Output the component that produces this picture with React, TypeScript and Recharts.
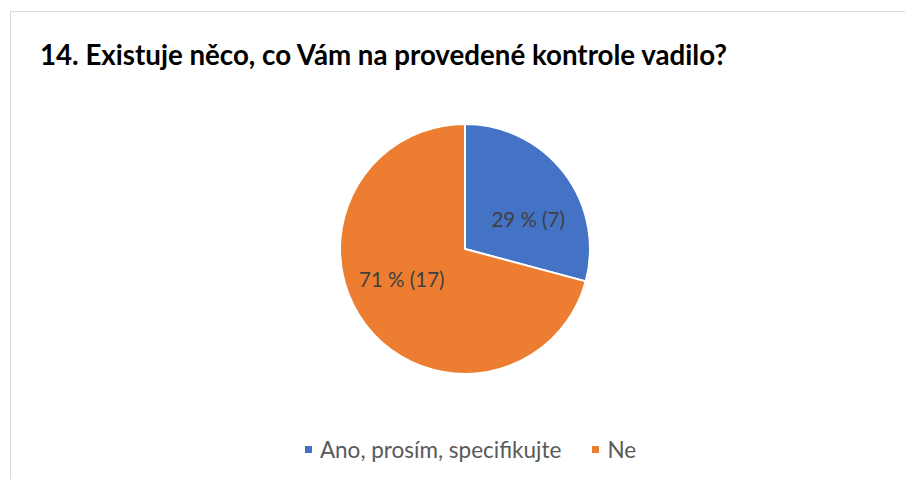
import { PieChart, Pie, Cell, Legend } from "recharts";

const categories = ["Ano, prosím, specifikujte", "Ne"];
const counts = [7, 17];
const colors = ["#4472C4", "#ED7D31"];
const title = "14. Existuje něco, co Vám na provedené kontrole vadilo?";

const data = categories.map((name, i) => ({ name, value: counts[i] }));

const RADIAN = Math.PI / 180;
const FONT = "Lato, 'Open Sans', sans-serif";

function renderLabel(props: any) {
  const { cx, cy, midAngle, outerRadius, percent, value } = props;
  const r = outerRadius * 0.56;
  const a = (midAngle - 12) * RADIAN;
  const x = cx + r * Math.cos(-a);
  const y = cy + r * Math.sin(-a);
  return (
    <text
      x={x}
      y={y}
      fill="#404040"
      fontSize={20.5}
      fontFamily={FONT}
      textAnchor="middle"
      dominantBaseline="central"
    >
      {`${Math.round(percent * 100)} % (${value})`}
    </text>
  );
}

function LegendContent(props: any) {
  const items = props.payload || [];
  return (
    <div
      style={{
        display: "flex",
        justifyContent: "center",
        alignItems: "center",
        fontFamily: FONT,
        paddingLeft: 36,
      }}
    >
      {items.map((entry: any, i: number) => (
        <div
          key={i}
          style={{ display: "flex", alignItems: "center", marginRight: i < items.length - 1 ? 31 : 0 }}
        >
          <span style={{ width: 7, height: 7, background: entry.color, marginRight: 8, display: "inline-block" }} />
          <span style={{ color: "#595959", fontSize: 22.5 }}>{entry.value}</span>
        </div>
      ))}
    </div>
  );
}

export default function App() {
  return (
    <div
      style={{
        position: "fixed",
        left: 0,
        top: 0,
        width: 905,
        height: 479,
        overflow: "hidden",
        background: "#fff",
      }}
    >
      <div
        style={{
          position: "absolute",
          left: 10,
          top: 11,
          width: 920,
          height: 500,
          border: "1.5px solid #d9d9d9",
          boxSizing: "border-box",
        }}
      />
      <div
        style={{
          position: "absolute",
          left: 40,
          top: 38,
          fontFamily: FONT,
          fontWeight: 700,
          fontSize: 27.7,
          color: "#000",
          whiteSpace: "nowrap",
        }}
      >
        {title}
      </div>
      <div style={{ position: "absolute", left: 0, top: 0 }}>
        <PieChart width={905} height={479} margin={{ top: 0, right: 0, bottom: 0, left: 0 }}>
          <Pie
            data={data}
            dataKey="value"
            nameKey="name"
            cx={465}
            cy={249}
            outerRadius={125}
            startAngle={90}
            endAngle={-270}
            stroke="#fff"
            strokeWidth={2}
            label={renderLabel}
            labelLine={false}
            isAnimationActive={false}
          >
            {data.map((d, i) => (
              <Cell key={d.name} fill={colors[i]} />
            ))}
          </Pie>
          <Legend
            content={<LegendContent />}
            verticalAlign="bottom"
            wrapperStyle={{ top: 436, left: 0, width: 905, bottom: "auto" }}
          />
        </PieChart>
      </div>
    </div>
  );
}
